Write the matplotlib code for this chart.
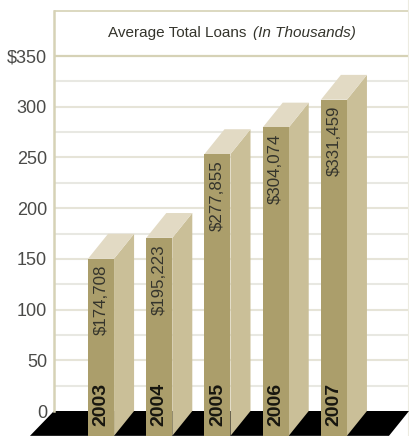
import matplotlib
matplotlib.use("Agg")
import matplotlib.pyplot as plt
import numpy as np

plt.rcParams['font.family'] = ['Liberation Sans', 'DejaVu Sans']

# average total loans, thousands of dollars
years = ['2003', '2004', '2005', '2006', '2007']
loans = [174.708, 195.223, 277.855, 304.074, 331.459]
loan_labels = ['$174,708', '$195,223', '$277,855', '$304,074', '$331,459']
major_ticks = [0, 50, 100, 150, 200, 250, 300, 350]
major_labels = ['0', '50', '100', '150', '200', '250', '300', '$350']
minor_ticks = [25, 75, 125, 175, 225, 275, 325]

# oblique projection of the bars
bar_w = 0.447
depth_x = 0.344
depth_y = 24.5
frame_top = 394

front_col = '#ab9e6b'
side_col = '#cabf98'
top_col = '#e2dac4'
text_col = '#34342c'

fig = plt.figure(figsize=(4.09, 4.36), dpi=100)
ax = fig.add_axes([54 / 409, 0, 355 / 409, 1])
ax.set_xlim(-0.808, 5.29)
ax.set_ylim(-24.65, 405.3)

# grid and frame
for t in minor_ticks:
    ax.axhline(t, color='#e8e8e2', lw=1.5, zorder=1)
for t in major_ticks[1:-1]:
    ax.axhline(t, color='#e6e4d8', lw=1.5, zorder=1)
ax.axhline(350, color='#d6d2b6', lw=1.6, zorder=1)
ax.axhline(frame_top, color='#dcd8c0', lw=1.4, zorder=1)
ax.axvline(5.27, color='#ecebe0', lw=0.8, zorder=1)

for s in ['top', 'right', 'bottom']:
    ax.spines[s].set_visible(False)
ax.spines['left'].set_color('#d6d2b6')
ax.spines['left'].set_linewidth(1.8)
ax.spines['left'].set_bounds(0, frame_top)

# black floor
x0, x1 = ax.get_xlim()
ax.fill([x0, x1, x1 - depth_x, x0 - depth_x * 1.2],
        [0, 0, -depth_y, -depth_y], color='black', lw=0, zorder=2, clip_on=False)

x = np.arange(len(years))
heights = np.array(loans)
left = x - bar_w / 2
right = x + bar_w / 2

# the back edge of each bar reaches its value on the axis
ax.bar(x, heights, width=bar_w, bottom=-depth_y, color=front_col, lw=0, zorder=4)
for i in range(len(years)):
    ax.fill([right[i], right[i] + depth_x, right[i] + depth_x, right[i]],
            [-depth_y, 0, loans[i], loans[i] - depth_y],
            color=side_col, lw=0, zorder=3)
    ax.fill([left[i], right[i], right[i] + depth_x, left[i] + depth_x],
            [loans[i] - depth_y, loans[i] - depth_y, loans[i], loans[i]],
            color=top_col, lw=0, zorder=3)
    ax.text(x[i], loans[i] - depth_y - 6, loan_labels[i], rotation=90, ha='center', va='top',
            fontsize=12.2, color=text_col, zorder=5)
    ax.text(x[i], -15, years[i], rotation=90, ha='center', va='bottom',
            fontsize=14, fontweight='bold', color='#17160f', zorder=5)

ax.set_xticks([])
ax.set_yticks(major_ticks)
ax.set_yticklabels(major_labels, fontsize=13, color='#4a4a48')
ax.tick_params(axis='y', length=0, pad=5)

fig.text(108 / 409, 1 - 33 / 436, 'Average Total Loans', ha='left', va='center',
         fontsize=11, color=text_col)
fig.text(356 / 409, 1 - 33 / 436, '(In Thousands)', ha='right', va='center',
         fontsize=11, style='italic', color=text_col)

fig.savefig('out.png', dpi=100)
